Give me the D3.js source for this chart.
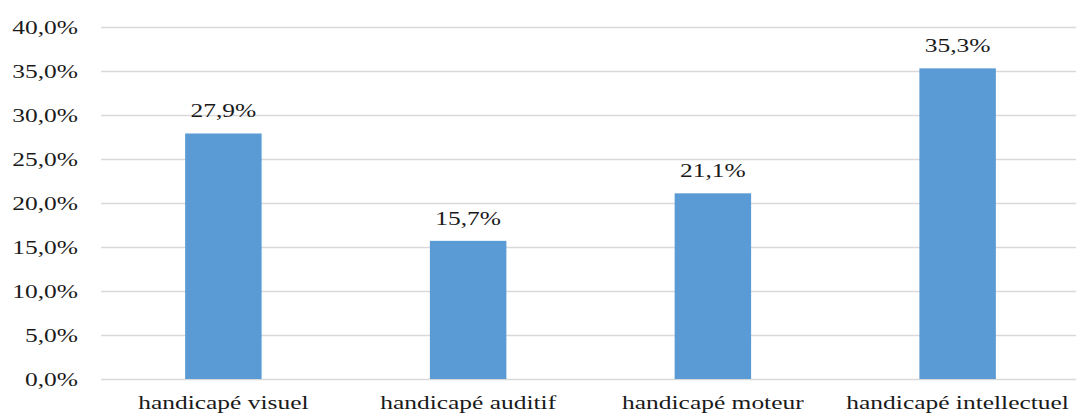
<!DOCTYPE html>
<html>
<head>
<meta charset="utf-8">
<script src="https://cdn.jsdelivr.net/npm/d3@7"></script>
<style>
  html, body { margin: 0; padding: 0; background: #ffffff; }
  svg { display: block; }
  text { font-family: "Liberation Serif", "Times New Roman", serif; fill: #1a1a1a; }
</style>
</head>
<body>
<svg id="chart" width="1076" height="416"></svg>
<script>
const categories = ["handicapé visuel", "handicapé auditif", "handicapé moteur", "handicapé intellectuel"];
const values = [27.9, 15.7, 21.1, 35.3];
const yTicks = [0, 5, 10, 15, 20, 25, 30, 35, 40];

const W = 1076, H = 416;
const svg = d3.select("#chart");
const fontSize = 19;
const sx = 1.34; // horizontal stretch of the reference

const fmt = v => d3.format(".1f")(v).replace(".", ",") + "%";

const x = d3.scaleBand().domain(categories).range([101, 1080])
  .paddingInner(0.6875).paddingOuter(0.34375);
const y = d3.scaleLinear().domain([0, 40]).range([379, 27]);

// gridlines via axis
const yAxis = d3.axisLeft(y).tickValues(yTicks).tickSize(-(W - 101)).tickFormat(() => "");
const gGrid = svg.append("g").attr("transform", "translate(101,0)").call(yAxis);
gGrid.select(".domain").remove();
gGrid.selectAll(".tick line").attr("stroke", "#d9d9d9").attr("stroke-width", 1.6);

// y tick labels
svg.append("g").selectAll("text").data(yTicks).join("text")
  .attr("transform", d => `translate(78,${y(d)}) scale(${sx},1)`)
  .attr("dy", "0.35em")
  .attr("text-anchor", "end")
  .style("font-size", fontSize + "px")
  .text(d => fmt(d));

// bars
svg.append("g").selectAll("rect").data(values).join("rect")
  .attr("x", (d, i) => x(categories[i]))
  .attr("y", d => y(d))
  .attr("width", x.bandwidth())
  .attr("height", d => y(0) - y(d))
  .attr("fill", "#5b9bd5");

// value labels
svg.append("g").selectAll("text").data(values).join("text")
  .attr("transform", (d, i) => `translate(${x(categories[i]) + x.bandwidth() / 2},${y(d) - 16}) scale(${sx},1)`)
  .attr("text-anchor", "middle")
  .style("font-size", fontSize + "px")
  .text(d => fmt(d));

// category labels
svg.append("g").selectAll("text").data(categories).join("text")
  .attr("transform", d => `translate(${x(d) + x.bandwidth() / 2},409) scale(${sx},1)`)
  .attr("text-anchor", "middle")
  .style("font-size", fontSize + "px")
  .text(d => d);
</script>
</body>
</html>
